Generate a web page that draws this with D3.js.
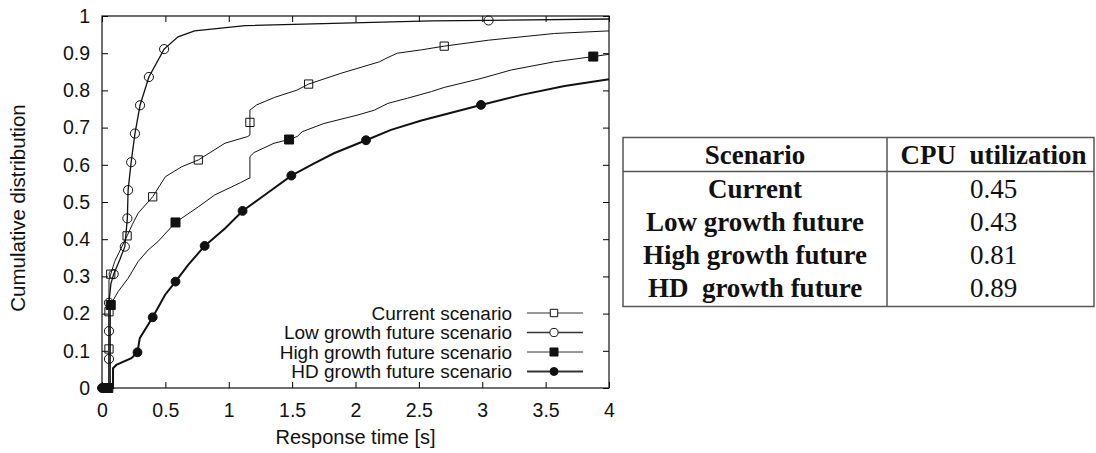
<!DOCTYPE html>
<html>
<head>
<meta charset="utf-8">
<script src="https://cdn.jsdelivr.net/npm/d3@7"></script>
<style>
  body { margin: 0; background: #fff; }
  svg { display: block; }
  text { font-family: "Liberation Sans", Arial, sans-serif; fill: #111; }
  .tbl text { font-family: "Liberation Serif", "Times New Roman", serif; }
</style>
</head>
<body>
<div id="chart"></div>
<script>
const width = 1096;
const height = 453;
const margin = { top: 16, right: 489, bottom: 65, left: 102 };

// response time [s], cumulative distribution
const currentLine = [[0,0],[0.055,0],[0.055,0.29],[0.069,0.306],[0.1,0.34],[0.15,0.375],[0.198,0.409],[0.24,0.44],[0.285,0.47],[0.4,0.514],[0.5,0.568],[0.63,0.595],[0.76,0.613],[0.97,0.658],[1.15,0.676],[1.167,0.68],[1.167,0.747],[1.22,0.761],[1.36,0.781],[1.54,0.801],[1.63,0.817],[1.885,0.846],[2.19,0.877],[2.24,0.886],[2.33,0.9],[2.52,0.909],[2.7,0.919],[3.05,0.935],[3.57,0.953],[4,0.96]];
const currentMarks = [[0.03,0],[0.055,0.105],[0.055,0.205],[0.069,0.306],[0.198,0.409],[0.4,0.514],[0.76,0.613],[1.167,0.714],[1.63,0.817],[2.7,0.919]];

const lowLine = [[0,0],[0.055,0],[0.055,0.23],[0.07,0.28],[0.092,0.306],[0.14,0.345],[0.18,0.38],[0.2,0.456],[0.206,0.532],[0.23,0.607],[0.26,0.684],[0.3,0.76],[0.37,0.836],[0.49,0.911],[0.6,0.944],[0.73,0.96],[1.13,0.974],[2.6,0.987],[3.05,0.988],[4,0.992]];
const lowMarks = [[0.01,0],[0.055,0.078],[0.055,0.153],[0.055,0.229],[0.092,0.306],[0.18,0.38],[0.2,0.456],[0.206,0.532],[0.23,0.607],[0.26,0.684],[0.3,0.76],[0.37,0.836],[0.49,0.911],[3.05,0.988]];

const highLine = [[0,0],[0.066,0],[0.066,0.223],[0.127,0.259],[0.206,0.295],[0.285,0.34],[0.364,0.371],[0.44,0.393],[0.58,0.445],[0.76,0.487],[0.89,0.519],[1.093,0.552],[1.16,0.564],[1.167,0.564],[1.167,0.622],[1.2,0.633],[1.357,0.658],[1.476,0.668],[1.54,0.676],[1.58,0.689],[1.75,0.711],[2.02,0.734],[2.15,0.747],[2.255,0.765],[2.41,0.779],[2.6,0.797],[2.7,0.808],[2.99,0.832],[3.23,0.855],[3.57,0.877],[3.876,0.891],[4,0.897]];
const highMarks = [[0.05,0],[0.069,0.223],[0.58,0.445],[1.476,0.668],[3.876,0.891]];

const hdLine = [[0,0],[0.087,0],[0.087,0.053],[0.113,0.062],[0.232,0.08],[0.28,0.096],[0.298,0.134],[0.4,0.19],[0.497,0.25],[0.58,0.286],[0.68,0.331],[0.81,0.382],[0.97,0.429],[1.109,0.476],[1.3,0.523],[1.494,0.571],[1.674,0.604],[1.83,0.631],[2.083,0.666],[2.28,0.694],[2.52,0.719],[2.99,0.761],[3.31,0.788],[3.65,0.812],[4,0.83]];
const hdMarks = [[0,0],[0.28,0.096],[0.4,0.19],[0.58,0.286],[0.81,0.382],[1.109,0.476],[1.494,0.571],[2.083,0.666],[2.99,0.761]];

const seriesNames = ['Current scenario', 'Low growth future scenario', 'High growth future scenario', 'HD growth future scenario'];

const xTicks = [0, 0.5, 1, 1.5, 2, 2.5, 3, 3.5, 4];
const yTicks = [0, 0.1, 0.2, 0.3, 0.4, 0.5, 0.6, 0.7, 0.8, 0.9, 1];

const tableHeader = ['Scenario', 'CPU  utilization'];
const tableScenarios = ['Current', 'Low growth future', 'High growth future', 'HD  growth future'];
const tableCpu = ['0.45', '0.43', '0.81', '0.89'];

const series = [
  { name: seriesNames[0], line: currentLine, marks: currentMarks, shape: d3.symbolSquare, size: 68, fill: 'none', width: 1 },
  { name: seriesNames[1], line: lowLine, marks: lowMarks, shape: d3.symbolCircle, size: 66, fill: 'none', width: 1.3 },
  { name: seriesNames[2], line: highLine, marks: highMarks, shape: d3.symbolSquare, size: 81, fill: '#111', width: 1 },
  { name: seriesNames[3], line: hdLine, marks: hdMarks, shape: d3.symbolCircle, size: 62, fill: '#111', width: 2 }
];

const svg = d3.select('#chart')
  .append('svg')
  .attr('width', width)
  .attr('height', height)
  .attr('viewBox', [0, 0, width, height]);

const plotRight = width - margin.right + 2;
const plotBottom = height - margin.bottom;

const x = d3.scaleLinear()
  .domain([0, 4])
  .range([margin.left, plotRight]);

const y = d3.scaleLinear()
  .domain([0, 1])
  .range([plotBottom, margin.top]);

// axes with inward ticks on all four sides
const fmt = d => d3.format('')(d);

svg.append('g')
  .attr('transform', `translate(0, ${plotBottom})`)
  .call(d3.axisBottom(x).tickValues(xTicks).tickFormat(fmt).tickSizeInner(-6).tickSizeOuter(0).tickPadding(15))
  .call(g => g.select('.domain').remove())
  .call(g => g.selectAll('text').attr('font-size', 19.5).style('font-family', '"Liberation Sans", Arial, sans-serif'));

svg.append('g')
  .attr('transform', `translate(0, ${margin.top})`)
  .call(d3.axisTop(x).tickValues(xTicks).tickFormat('').tickSizeInner(-6).tickSizeOuter(0))
  .call(g => g.select('.domain').remove());

svg.append('g')
  .attr('transform', `translate(${margin.left}, 0)`)
  .call(d3.axisLeft(y).tickValues(yTicks).tickFormat(fmt).tickSizeInner(-6).tickSizeOuter(0).tickPadding(12))
  .call(g => g.select('.domain').remove())
  .call(g => g.selectAll('text').attr('font-size', 19.5).style('font-family', '"Liberation Sans", Arial, sans-serif'));

svg.append('g')
  .attr('transform', `translate(${plotRight}, 0)`)
  .call(d3.axisRight(y).tickValues(yTicks).tickFormat('').tickSizeInner(-6).tickSizeOuter(0))
  .call(g => g.select('.domain').remove());

svg.append('rect')
  .attr('x', margin.left)
  .attr('y', margin.top)
  .attr('width', plotRight - margin.left)
  .attr('height', plotBottom - margin.top)
  .attr('fill', 'none')
  .attr('stroke', '#111')
  .attr('stroke-width', 1.2);

svg.append('text')
  .attr('x', (margin.left + plotRight) / 2)
  .attr('y', 444)
  .attr('text-anchor', 'middle')
  .attr('font-size', 20)
  .text('Response time [s]');

svg.append('text')
  .attr('transform', `translate(25, ${(margin.top + plotBottom) / 2 + 6}) rotate(-90)`)
  .attr('text-anchor', 'middle')
  .attr('font-size', 20.5)
  .text('Cumulative distribution');

// curves
const line = d3.line()
  .x(d => x(d[0]))
  .y(d => y(d[1]));

const curves = svg.append('g');

series.forEach(s => {
  curves.append('path')
    .datum(s.line)
    .attr('fill', 'none')
    .attr('stroke', '#111')
    .attr('stroke-width', s.width)
    .attr('d', line);
});

series.forEach(s => {
  curves.append('g')
    .selectAll('path')
    .data(s.marks)
    .join('path')
      .attr('transform', d => `translate(${x(d[0])}, ${y(d[1])})`)
      .attr('d', d3.symbol(s.shape, s.size))
      .attr('fill', s.fill === 'none' ? 'none' : s.fill)
      .attr('stroke', '#111')
      .attr('stroke-width', 1);
});

// legend
const legend = svg.append('g')
  .selectAll('g')
  .data(series)
  .join('g')
    .attr('transform', (d, i) => `translate(0, ${313 + i * 19.5})`);

legend.append('text')
  .attr('x', 512)
  .attr('dy', '0.35em')
  .attr('text-anchor', 'end')
  .attr('font-size', 19)
  .text(d => d.name);

legend.append('line')
  .attr('x1', 527)
  .attr('x2', 583)
  .attr('stroke', '#333')
  .attr('stroke-width', d => d.width);

legend.append('path')
  .attr('transform', 'translate(554, 0)')
  .attr('d', d => d3.symbol(d.shape, d.size * 0.8)())
  .attr('fill', d => d.fill === 'none' ? '#fff' : d.fill)
  .attr('stroke', '#111');

// table
const tbl = svg.append('g').attr('class', 'tbl');
const tLeft = 623, tRight = 1094, tTop = 137.5, tBottom = 306.5, tHead = 171.5, tDiv = 887;

const rowY = d3.scalePoint()
  .domain(d3.range(tableScenarios.length))
  .range([188.5, 288]);

tbl.append('rect')
  .attr('x', tLeft).attr('y', tTop)
  .attr('width', tRight - tLeft).attr('height', tBottom - tTop)
  .attr('fill', 'none').attr('stroke', '#555').attr('stroke-width', 1.5);

tbl.append('line')
  .attr('x1', tLeft).attr('x2', tRight).attr('y1', tHead).attr('y2', tHead)
  .attr('stroke', '#555').attr('stroke-width', 1.5);

tbl.append('line')
  .attr('x1', tDiv).attr('x2', tDiv).attr('y1', tTop).attr('y2', tBottom)
  .attr('stroke', '#555').attr('stroke-width', 1.5);

const col1 = (tLeft + tDiv) / 2;
const col2 = (tDiv + tRight) / 2 + 3;

tbl.selectAll('.hdr')
  .data(tableHeader)
  .join('text')
    .attr('class', 'hdr')
    .attr('x', (d, i) => i === 0 ? col1 : col2)
    .attr('y', 155)
    .attr('dy', '0.35em')
    .attr('text-anchor', 'middle')
    .attr('font-size', 27)
    .attr('font-weight', 'bold')
    .style('white-space', 'pre')
    .text(d => d);

tbl.selectAll('.name')
  .data(tableScenarios)
  .join('text')
    .attr('class', 'name')
    .attr('x', col1)
    .attr('y', (d, i) => rowY(i))
    .attr('dy', '0.35em')
    .attr('text-anchor', 'middle')
    .attr('font-size', 27)
    .attr('font-weight', 'bold')
    .style('white-space', 'pre')
    .text(d => d);

tbl.selectAll('.val')
  .data(tableCpu)
  .join('text')
    .attr('class', 'val')
    .attr('x', col2)
    .attr('y', (d, i) => rowY(i))
    .attr('dy', '0.35em')
    .attr('text-anchor', 'middle')
    .attr('font-size', 27)
    .text(d => d);
</script>
</body>
</html>
